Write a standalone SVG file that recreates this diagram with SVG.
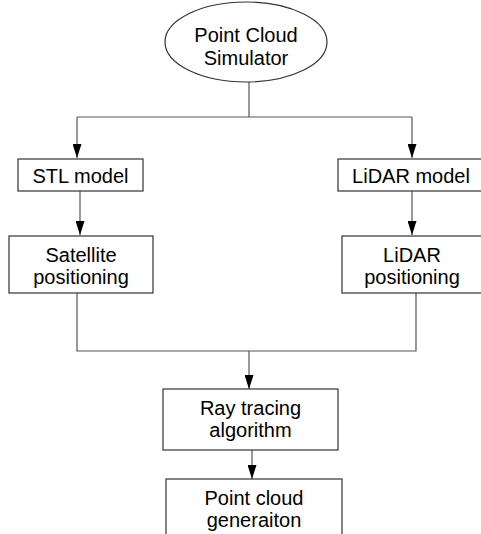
<svg xmlns="http://www.w3.org/2000/svg" width="481" height="534" viewBox="0 0 481 534">
<style>
.n{fill:#fff;stroke:#333;stroke-width:1.2}
.t{font-family:"Liberation Sans",Arial,sans-serif;font-size:20px;fill:#000;text-anchor:middle}
.c{fill:none;stroke:#555;stroke-width:1.2}
</style>
<defs>
<marker id="a" viewBox="0 0 14 9" refX="14" refY="4.5" markerWidth="14" markerHeight="9" markerUnits="userSpaceOnUse" orient="auto">
<path d="M0,0 L14,4.5 L0,9 Z" fill="#000"/>
</marker>
</defs>
<rect width="481" height="534" fill="#fff"/>
<g id="connectors">
<path class="c" d="M249,82 V117 M77,117 H412"/>
<path class="c" d="M77,117 V158" marker-end="url(#a)"/>
<path class="c" d="M412,117 V158" marker-end="url(#a)"/>
<path class="c" d="M80,191 V235" marker-end="url(#a)"/>
<path class="c" d="M412,191 V235" marker-end="url(#a)"/>
<path class="c" d="M77,293 V351 H416 V293"/>
<path class="c" d="M249,351 V389" marker-end="url(#a)"/>
<path class="c" d="M252,450 V479" marker-end="url(#a)"/>
</g>
<g id="simulator">
<ellipse class="n" cx="246" cy="42" rx="81" ry="40"/>
<text class="t" x="246" y="42">Point Cloud</text>
<text class="t" x="246" y="65">Simulator</text>
</g>
<g id="stl">
<rect class="n" x="18" y="159" width="125" height="32"/>
<text class="t" x="80.5" y="183">STL model</text>
</g>
<g id="lidar">
<rect class="n" x="338" y="159" width="150" height="32"/>
<text class="t" x="411" y="183">LiDAR model</text>
</g>
<g id="satpos">
<rect class="n" x="9" y="236" width="144" height="57"/>
<text class="t" x="81" y="262">Satellite</text>
<text class="t" x="81" y="284">positioning</text>
</g>
<g id="lidarpos">
<rect class="n" x="342" y="236" width="146" height="57"/>
<text class="t" x="412" y="262">LiDAR</text>
<text class="t" x="412" y="284">positioning</text>
</g>
<g id="raytrace">
<rect class="n" x="163" y="389" width="175" height="61"/>
<text class="t" x="250.5" y="415">Ray tracing</text>
<text class="t" x="250.5" y="437">algorithm</text>
</g>
<g id="pointcloud">
<rect class="n" x="166" y="479" width="176" height="70"/>
<text class="t" x="254" y="505">Point cloud</text>
<text class="t" x="254" y="527">generaiton</text>
</g>
</svg>
